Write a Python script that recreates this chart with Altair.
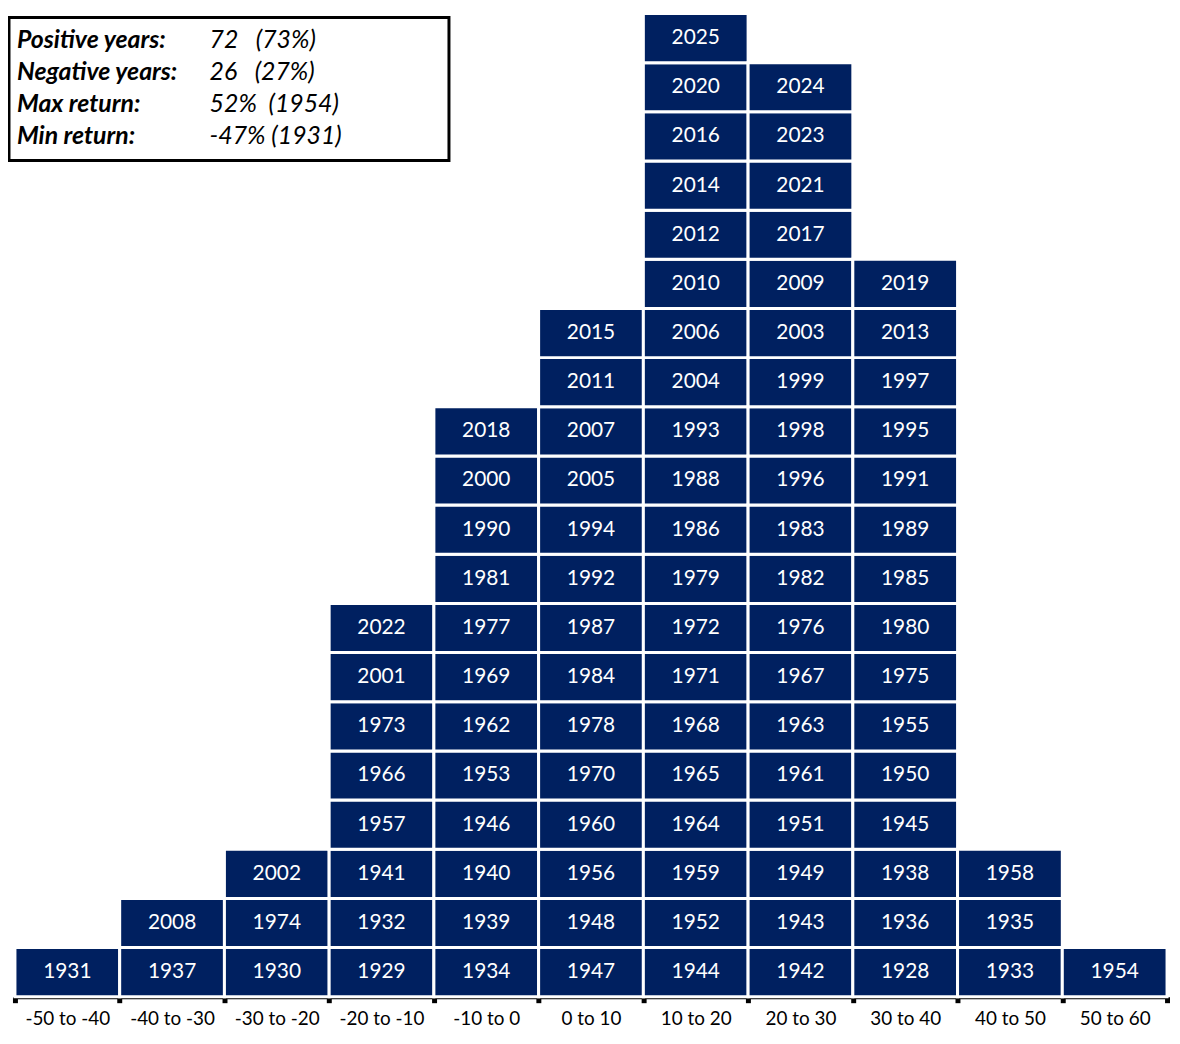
import altair as alt
import pandas as pd

bin_labels = ["-50 to -40", "-40 to -30", "-30 to -20", "-20 to -10", "-10 to 0",
              "0 to 10", "10 to 20", "20 to 30", "30 to 40", "40 to 50", "50 to 60"]

years_m50 = [1931]
years_m40 = [1937, 2008]
years_m30 = [1930, 1974, 2002]
years_m20 = [1929, 1932, 1941, 1957, 1966, 1973, 2001, 2022]
years_m10 = [1934, 1939, 1940, 1946, 1953, 1962, 1969, 1977, 1981, 1990, 2000, 2018]
years_p0 = [1947, 1948, 1956, 1960, 1970, 1978, 1984, 1987, 1992, 1994, 2005, 2007, 2011, 2015]
years_p10 = [1944, 1952, 1959, 1964, 1965, 1968, 1971, 1972, 1979, 1986, 1988, 1993,
             2004, 2006, 2010, 2012, 2014, 2016, 2020, 2025]
years_p20 = [1942, 1943, 1949, 1951, 1961, 1963, 1967, 1976, 1982, 1983, 1996, 1998,
             1999, 2003, 2009, 2017, 2021, 2023, 2024]
years_p30 = [1928, 1936, 1938, 1945, 1950, 1955, 1975, 1980, 1985, 1989, 1991, 1995,
             1997, 2013, 2019]
years_p40 = [1933, 1935, 1958]
years_p50 = [1954]

all_bins = [years_m50, years_m40, years_m30, years_m20, years_m10, years_p0,
            years_p10, years_p20, years_p30, years_p40, years_p50]

stat_names = ["Positive years:", "Negative years:", "Max return:", "Min return:"]
stat_values = ["72\u00a0\u00a0\u00a0(73%)", "26\u00a0\u00a0\u00a0(27%)",
               "52%\u00a0\u00a0(1954)", "-47% (1931)"]

rows = []
for i, ys in enumerate(all_bins):
    for j, yr in enumerate(sorted(ys)):
        rows.append({"bin": bin_labels[i], "x0": i, "x1": i + 1, "xc": i + 0.5,
                     "y0": j, "y1": j + 1, "yc": j + 0.5, "year": str(yr)})
df = pd.DataFrame(rows)

NAVY = "#002060"
n = len(bin_labels)
label_arr = "[" + ",".join("'" + s + "'" for s in bin_labels) + "]"

xscale = alt.Scale(domain=[0, n], nice=False, zero=False)
yscale = alt.Scale(domain=[0, 20], nice=False, zero=False)

xaxis = alt.Axis(
    values=[k * 0.5 for k in range(2 * n + 1)],
    labelExpr="datum.value % 1 === 0 ? '' : " + label_arr + "[floor(datum.value)]",
    tickOpacity={"condition": {"test": "datum.value % 1 === 0", "value": 1}, "value": 0},
    domainColor="black", domainWidth=4, tickColor="black", tickWidth=5, tickSize=6,
    labelFont="Lato", labelFontSize=19, labelColor="black", labelPadding=7,
    labelOverlap=False, labelFlush=False, grid=False, title=None,
)

base = alt.Chart(df)

cells = base.mark_rect(fill=NAVY, stroke="white", strokeWidth=3).encode(
    x=alt.X("x0:Q", scale=xscale, axis=xaxis),
    x2="x1:Q",
    y=alt.Y("y0:Q", scale=yscale, axis=None),
    y2="y1:Q",
)

texts = base.mark_text(color="white", font="Lato", fontSize=21,
                       align="center", baseline="middle").encode(
    x=alt.X("xc:Q", scale=xscale),
    y=alt.Y("yc:Q", scale=yscale),
    text="year:N",
)

one = pd.DataFrame({"k": [0]})
box = alt.Chart(one).mark_rect(fill="white", stroke="black", strokeWidth=3).encode(
    x=alt.value(-6), x2=alt.value(437), y=alt.value(4), y2=alt.value(148)
)

names_txt = alt.Chart(one).mark_text(
    text=stat_names, font="Lato", fontSize=25, fontWeight="bold", fontStyle="italic",
    align="left", baseline="alphabetic", lineHeight=32, color="black"
).encode(x=alt.value(2), y=alt.value(35))

vals_txt = alt.Chart(one).mark_text(
    text=stat_values, font="Lato", fontSize=25, fontStyle="italic",
    align="left", baseline="alphabetic", lineHeight=32, color="black"
).encode(x=alt.value(196), y=alt.value(35))

chart = alt.layer(cells, texts, box, names_txt, vals_txt).properties(
    width=1160, height=990,
    autosize=alt.AutoSizeParams(type="none"),
    padding={"left": 7, "top": 2, "right": 5, "bottom": 34},
).configure_view(stroke=None)

chart.save("out.html", embed_options={"renderer": "svg", "actions": False})
